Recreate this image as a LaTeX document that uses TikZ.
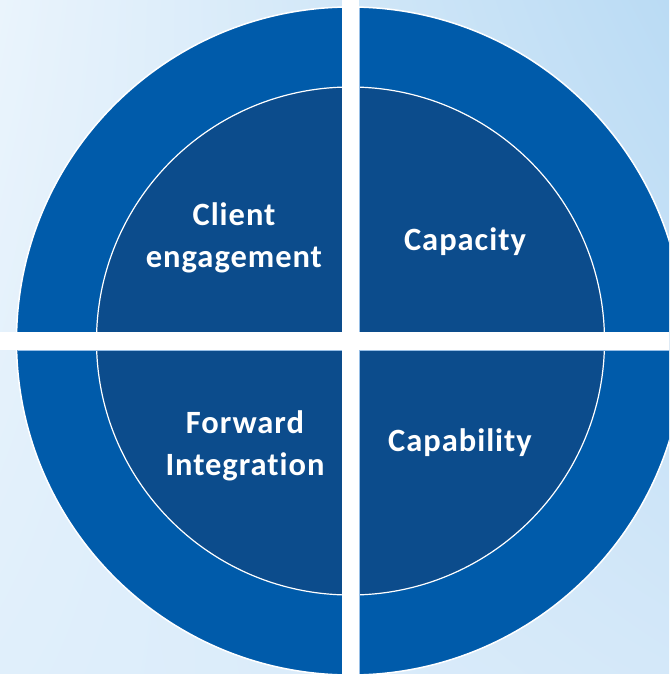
\documentclass[tikz,border=0pt]{standalone}
\usepackage{fontspec}
\setmainfont{Carlito}[LetterSpace=3, Ligatures={NoCommon}]
\usepackage{tikz}
\usetikzlibrary{positioning, shadings}

\definecolor{ringblue}{RGB}{0,91,170}
\definecolor{coreblue}{RGB}{12,76,140}
\definecolor{edgeblue}{RGB}{150,190,230}
\definecolor{bgTL}{RGB}{234,244,252}
\definecolor{bgTR}{RGB}{186,219,244}
\definecolor{bgBL}{RGB}{224,239,251}
\definecolor{bgBR}{RGB}{212,232,249}

\begin{document}
\begin{tikzpicture}[x=1pt, y=-1pt,
    font=\bfseries\fontsize{32.5}{42}\selectfont,
    quadtext/.style={text=white, align=center}]
    % Background
    \useasboundingbox (0,0) rectangle (669,674);
    \shade[upper left=bgTL, upper right=bgTR, lower left=bgBL, lower right=bgBR]
        (0,0) rectangle (669,674);
    \begin{scope}
        \clip (0,0) rectangle (669,674);
        \coordinate (c) at (350.5,341);
        % Outer ring and inner core
        \fill[ringblue, draw=white, line width=1.5pt] (c) circle[radius=334pt];
        \fill[coreblue, draw=white, line width=1.2pt] (c) circle[radius=254pt];
        % Thin light edges of the quarters along the cross
        \begin{scope}
            \clip (c) circle[radius=333pt];
            \draw[edgeblue, line width=0.8pt] (342,-5) rectangle (359,680);
            \draw[edgeblue, line width=0.8pt] (-5,332) rectangle (675,350);
        \end{scope}
        % White cross splitting the four quarters
        \fill[white] (342.4,-5) rectangle (358.6,680);
        \fill[white] (-5,332.4) rectangle (675,349.6);
    \end{scope}
    % Quarter labels
    \node[quadtext] (engage) at (234,238) {Client\\engagement};
    \node[quadtext] (capacity) at (465,242) {Capacity};
    \node[quadtext] (forward) at (245,446) {Forward\\Integration};
    \node[quadtext] (capability) at (460,443) {Capability};
\end{tikzpicture}
\end{document}
